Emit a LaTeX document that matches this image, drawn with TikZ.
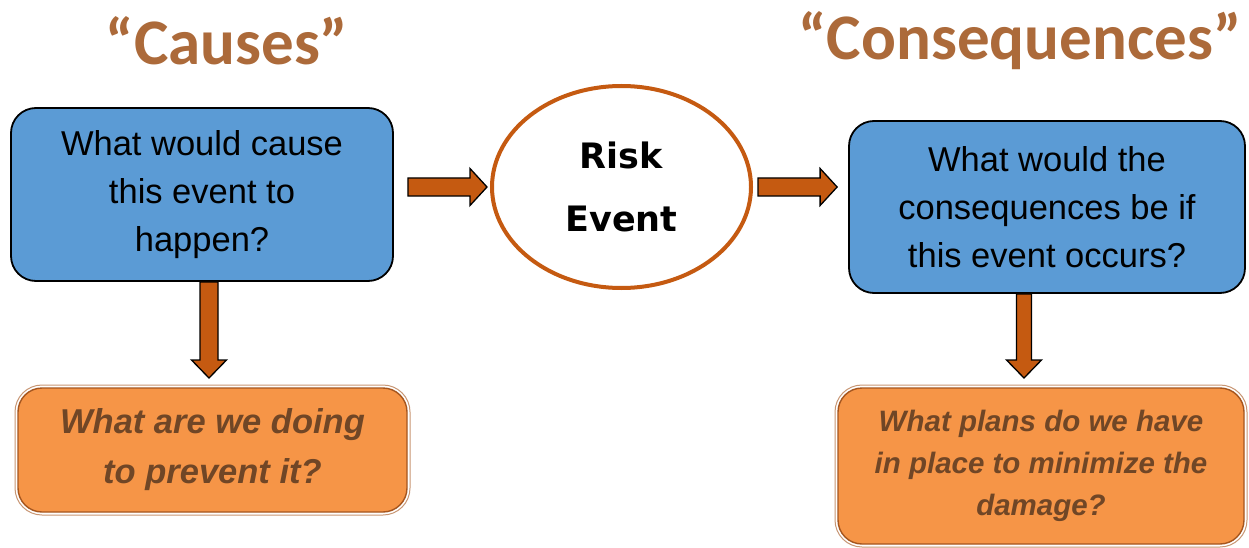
\documentclass[tikz,border=0pt]{standalone}
\usepackage{fontspec}
\setmainfont{Liberation Sans}
\newfontfamily\titlefont{Carlito}
\newfontfamily\heavyfont{DejaVu Sans}
\usetikzlibrary{shapes.geometric,calc}
\definecolor{boxblue}{RGB}{91,155,213}
\definecolor{arrowc}{RGB}{197,90,17}
\definecolor{boxorange}{RGB}{246,149,71}
\definecolor{ortext}{RGB}{112,70,38}
\definecolor{titlec}{RGB}{172,106,58}
\definecolor{orline}{RGB}{165,85,30}
\definecolor{orouter}{RGB}{200,150,115}
\tikzset{
  bluebox/.style={draw=black, line width=1.8pt, fill=boxblue, rounded corners=25pt,
    align=center, inner sep=0pt, font=\fontsize{34.5}{48}\selectfont},
  orbox/.style={draw=orline, line width=1.4pt, fill=boxorange, rounded corners=24pt,
    align=center, inner sep=0pt, text=ortext},
  riskell/.style={ellipse, draw=arrowc, line width=4pt, fill=white, inner sep=0pt,
    minimum width=259pt, minimum height=202pt, align=center,
    font=\heavyfont\fontsize{35}{63}\selectfont\bfseries},
  titletext/.style={text=titlec, font=\titlefont\fontsize{65}{70}\selectfont\bfseries},
  blockarrow/.style={fill=arrowc, draw=black, line width=1.3pt, line join=miter}
}
\newcommand{\harrowdraw}[2]{%
  \draw[blockarrow] let \p1=(#1), \p2=(#2) in
    (\x1,{\y1+9pt}) -- ({\x2-17pt},{\y1+9pt}) -- ({\x2-17pt},{\y1+18.5pt}) -- (\x2,\y1)
    -- ({\x2-17pt},{\y1-18.5pt}) -- ({\x2-17pt},{\y1-9pt}) -- (\x1,{\y1-9pt}) -- cycle;}
\newcommand{\varrowdraw}[3]{%
  \draw[blockarrow] let \p1=(#1), \p2=(#2) in
    ({\x1-#3},\y1) -- ({\x1-#3},{\y2+18pt}) -- ({\x1-17.5pt},{\y2+18pt}) -- (\x1,\y2)
    -- ({\x1+17.5pt},{\y2+18pt}) -- ({\x1+#3},{\y2+18pt}) -- ({\x1+#3},\y1) -- cycle;}
\begin{document}
\begin{tikzpicture}[x=1pt,y=-1pt]
\useasboundingbox[fill=white] (0,0) rectangle (1249,548);
% titles
\node[titletext] (tcause) at (227,41) {“Causes”};
\node[titletext] (tcons) at (1020,41) {“Consequences”};
% blue boxes
\node[bluebox, minimum width=382pt, minimum height=173pt] (cause) at (202,194.5)
  {What would cause\\this event to\\happen?};
\node[bluebox, minimum width=396pt, minimum height=172pt] (cons) at (1047,207)
  {What would the\\consequences be if\\this event occurs?};
% risk event
\node[riskell] (risk) at (621.5,187) {Risk\\Event};
% orange boxes
\draw[orouter, line width=1pt, rounded corners=27pt] (15,385) rectangle (410,515);
\node[orbox, minimum width=389pt, minimum height=124pt,
  font=\fontsize{34.5}{50}\selectfont\bfseries\itshape] (prevent) at (212.5,450)
  {What are we doing\\to prevent it?};
\draw[orouter, line width=1pt, rounded corners=27pt] (835,385) rectangle (1247,547);
\node[orbox, minimum width=406pt, minimum height=156pt,
  font=\fontsize{29.5}{42}\selectfont\bfseries\itshape] (plans) at (1041,466)
  {What plans do we have\\in place to minimize the\\damage?};
% arrows
\coordinate (h1s) at ([xshift=14pt]cause.east |- risk.center);
\coordinate (h1e) at ([xshift=-3pt]risk.west);
\harrowdraw{h1s}{h1e}
\coordinate (h2s) at ([xshift=5pt]risk.east);
\coordinate (h2e) at ([xshift=-11pt]cons.west |- risk.center);
\harrowdraw{h2s}{h2e}
\coordinate (v1s) at ([xshift=7pt]cause.south);
\coordinate (v1e) at (v1s |- 0,378);
\varrowdraw{v1s}{v1e}{9pt}
\coordinate (v2s) at ([xshift=-23pt]cons.south);
\coordinate (v2e) at (v2s |- 0,378);
\varrowdraw{v2s}{v2e}{7.5pt}
\end{tikzpicture}
\end{document}
